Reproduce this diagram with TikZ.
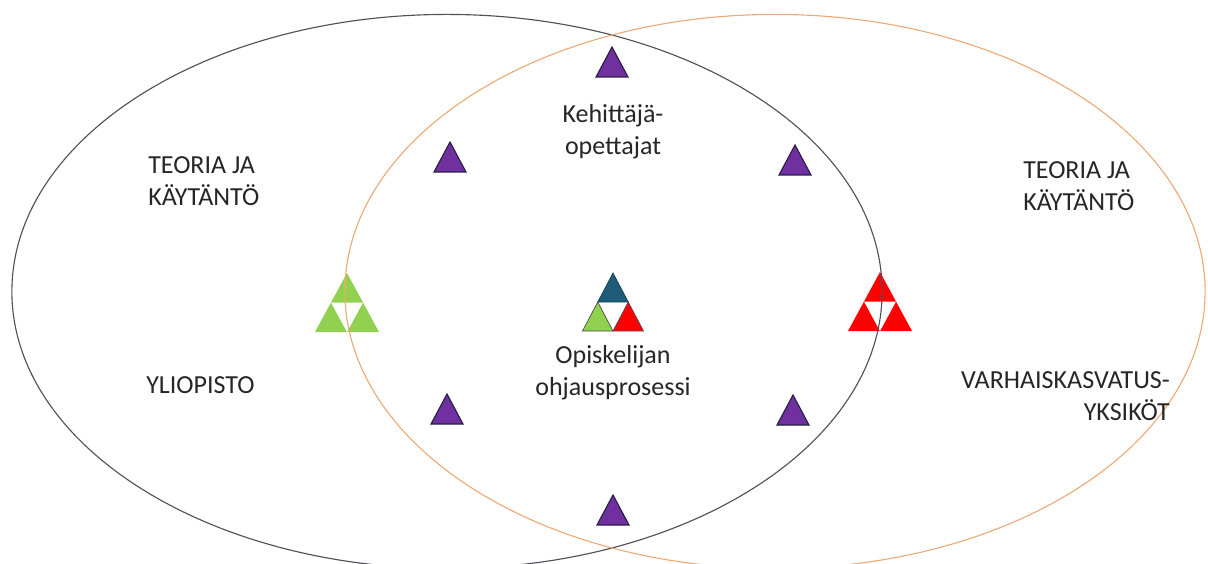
\documentclass[tikz,border=0pt]{standalone}
\usepackage{fontspec}
\setmainfont{Carlito}
\definecolor{ellgray}{RGB}{80,80,88}
\definecolor{ellorange}{RGB}{236,170,120}
\definecolor{tripurple}{RGB}{112,48,160}
\definecolor{triedge}{RGB}{40,30,70}
\definecolor{trigreen}{RGB}{146,208,80}
\definecolor{trired}{RGB}{255,0,0}
\definecolor{triblue}{RGB}{31,92,122}
\tikzset{
  lbl/.style={font=\fontsize{18.5}{22.5}\selectfont, inner sep=0pt, text=black!85},
  smalltri/.pic={
    \filldraw[fill=tripurple, draw=triedge, line width=0.8pt, line join=miter]
      (-16,0) -- (16,0) -- (0,-30) -- cycle;
  },
  sierp/.pic={
    \fill[\pgfkeysvalueof{/tikz/sierpc}] (-32,0) -- (32,0) -- (0,-59) -- cycle;
    \fill[white] (0,0) -- (-16,-29.5) -- (16,-29.5) -- cycle;
  },
  sierpc/.initial=trigreen
}
\begin{document}
\begin{tikzpicture}[x=0.025cm, y=-0.025cm]
\useasboundingbox (0,0) rectangle (1208,564);
\fill[white] (0,0) rectangle (1208,564);
% side triangles
\pic[sierpc=trigreen] at (347,332) {sierp};
\pic[sierpc=trired] at (880,331) {sierp};
% ellipses (drawn over the side triangles)
\draw[ellgray, line width=0.8pt] (447,291.5) ellipse [x radius=10.875cm, y radius=6.925cm];
\draw[ellorange, line width=0.8pt] (775,291.5) ellipse [x radius=10.75cm, y radius=6.925cm];
% central triangle
\begin{scope}[shift={(613,331)}]
  \filldraw[fill=triblue, draw=triblue!70!black, line width=0.5pt] (0,-58) -- (-15.25,-29) -- (15.25,-29) -- cycle;
  \filldraw[fill=trigreen, draw=black!70, line width=0.5pt] (-30.5,0) -- (0,0) -- (-15.25,-29) -- cycle;
  \filldraw[fill=trired, draw=black!70, line width=0.5pt] (0,0) -- (30.5,0) -- (15.25,-29) -- cycle;
\end{scope}
% purple triangles
\pic at (612,77) {smalltri};
\pic at (450,172) {smalltri};
\pic at (795,175) {smalltri};
\pic at (447,424) {smalltri};
\pic at (793,425) {smalltri};
\pic at (613,525) {smalltri};
% labels
\node[lbl, align=left, anchor=west] (lteoria) at (148,181) {TEORIA JA\\KÄYTÄNTÖ};
\node[lbl, anchor=west] (ylio) at (146,385) {YLIOPISTO};
\node[lbl, align=center] (kehit) at (613,132) {Kehittäjä-\\opettajat};
\node[lbl, align=center] (opisk) at (613,373) {Opiskelijan\\ohjausprosessi};
\node[lbl, align=left, anchor=west] (rteoria) at (1023,186) {TEORIA JA\\KÄYTÄNTÖ};
\node[lbl, align=right, anchor=east] (varh) at (1170,396) {VARHAISKASVATUS-\\YKSIKÖT};
\end{tikzpicture}
\end{document}
